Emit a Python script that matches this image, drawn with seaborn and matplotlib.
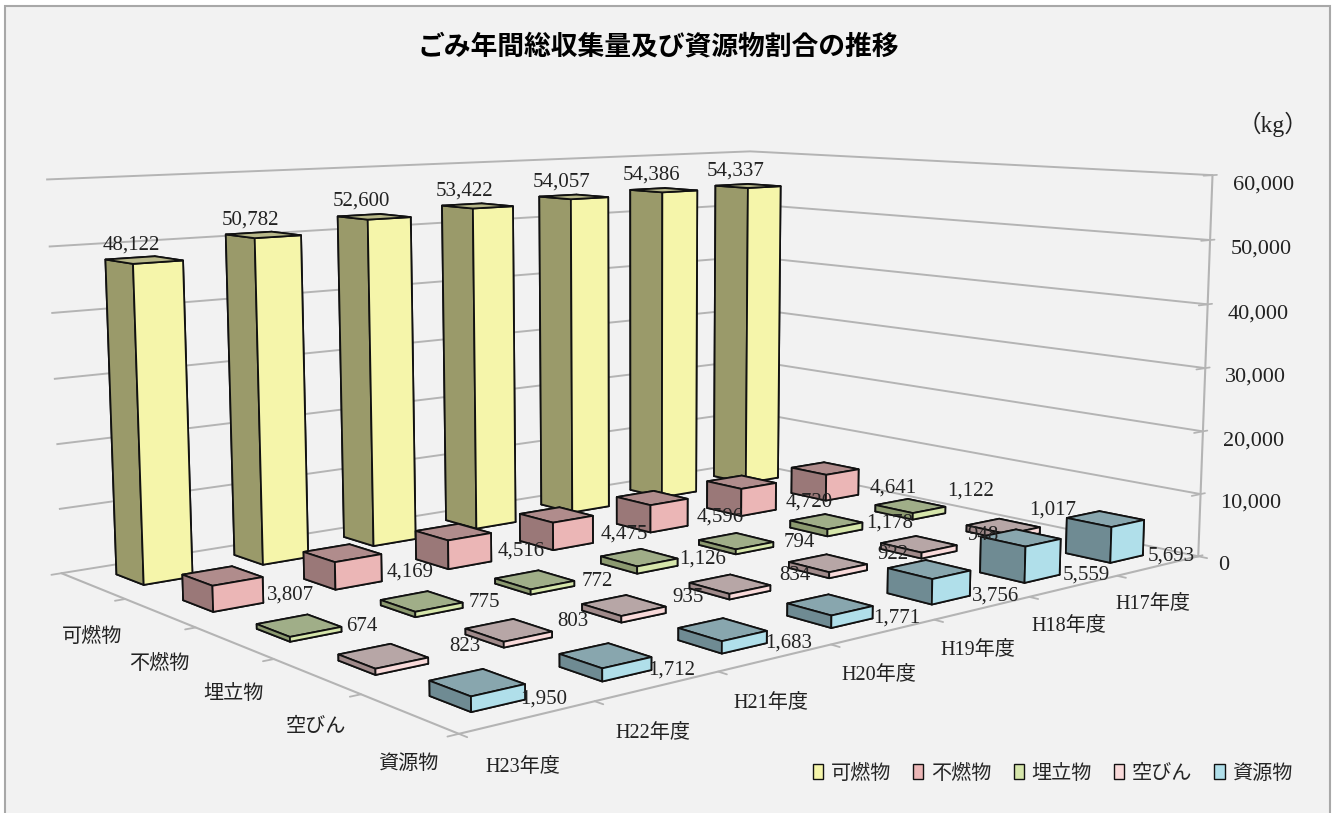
"""
Recreate the 3D bar chart of yearly garbage collection.
"""

import matplotlib
matplotlib.use("Agg")
import matplotlib.pyplot as plt
import seaborn as sns
from matplotlib.patches import Patch, Rectangle
from mpl_toolkits.mplot3d import proj3d

years = ["H23年度", "H22年度", "H21年度", "H20年度", "H19年度", "H18年度", "H17年度"]
categories = ["資源物", "空びん", "埋立物", "不燃物", "可燃物"]

burnable = [48122, 50782, 52600, 53422, 54057, 54386, 54337]
unburnable = [3807, 4169, 4516, 4475, 4596, 4720, 4641]
landfill = [674, 775, 772, 1126, 794, 1178, 1122]
bottles = [823, 803, 935, 834, 922, 948, 1017]
resources = [1950, 1712, 1683, 1771, 3756, 5559, 5693]

series = [resources, bottles, landfill, unburnable, burnable]
z_ticks = [0, 10000, 20000, 30000, 40000, 50000, 60000]
legend_order = [4, 3, 2, 1, 0]

# top, dark side, light side
face_colors = [
    ("#88a6ae", "#6f8b93", "#b0dfea"),
    ("#b7a6a6", "#a08a8a", "#f9dada"),
    ("#a0ae88", "#8c9a70", "#d6e6ab"),
    ("#b08c8c", "#9a7878", "#ebb6b6"),
    ("#b9b98a", "#9a9a6a", "#f5f5aa"),
]
# label offsets from the anchor, in points
label_offsets = [(48, -1), (46.5, 6), (45.5, -1), (49, -14), (-9, 11)]
# a few labels that sit apart from the rest of their series
label_nudges = {(2, 6): (-2, 12), (1, 6): (-11, 6), (1, 0): (12, 1)}
# the 資源物 labels sit next to the bar base, the others follow the bar top
anchor_on_base = [True, False, False, False, False]

sns.set_theme(style="white")
plt.rcParams["font.family"] = ["Liberation Serif", "Noto Sans CJK JP"]

W, H = 1335, 813
BG = "#f2f2f2"
GRID = "#b4b4b4"
TEXT = "#222222"

fig = plt.figure(figsize=(W / 100, H / 100), dpi=100, facecolor="white")
fig.add_artist(
    Rectangle(
        (5 / W, -0.02),
        1325 / W,
        1.02 - 6 / H,
        transform=fig.transFigure,
        facecolor=BG,
        edgecolor="#a8a8a8",
        linewidth=1.5,
        zorder=-5,
    )
)

ax = fig.add_axes([0.0239, -0.20622, 0.88577, 1.45449], projection="3d", computed_zorder=False)
ax.patch.set_alpha(0)
ax.view_init(elev=8.333, azim=-129.955)
ax.set_proj_type("persp", focal_length=0.3464)
ax.set_box_aspect((1.3634, 1.0, 0.5737), zoom=1.0)

ax.set_xlim(0, 7, view_margin=0)
ax.set_ylim(0, 5, view_margin=0)
ax.set_zlim(0, 60000, view_margin=0)

for axis in (ax.xaxis, ax.yaxis, ax.zaxis):
    axis.set_pane_color((0, 0, 0, 0))
    axis.pane.set_edgecolor("none")
    axis.line.set_color(GRID)
    axis.line.set_linewidth(1.5)
    axis._axinfo["grid"].update(color=GRID, linewidth=1.4)
for axis in (ax.xaxis, ax.yaxis):
    axis._axinfo["grid"].update(linewidth=0)
    axis._axinfo["tick"].update(inward_factor=0, outward_factor=0)

# value axis goes on the right hand corner
ax.zaxis._axinfo["juggled"] = (1, 2, 0)

ax.set_xticks([i + 0.5 for i in range(len(years))], years, fontsize=14.5)
ax.set_yticks([j + 0.5 for j in range(len(categories))], [""] * len(categories))
ax.set_zticks(z_ticks, [f"{v:,}" for v in z_ticks], fontsize=16)
ax.tick_params(axis="x", pad=18, labelcolor=TEXT, color=GRID)
ax.tick_params(axis="z", pad=0, labelcolor=TEXT, color=GRID)

for tick in ax.xaxis.get_major_ticks():
    tick.label1.set_ha("right")
for tick in ax.zaxis.get_major_ticks():
    tick.label1.set_ha("left")

# cell boundary ticks on the floor edges
for i in range(len(years) + 1):
    ax.plot([i, i], [0, -0.08], [0, 0], color=GRID, lw=1.3, zorder=1)
for j in range(len(categories) + 1):
    ax.plot([0, -0.08], [j, j], [0, 0], color=GRID, lw=1.3, zorder=1)

# back to front so nearer bars cover farther ones
width, depth = 0.40, 0.42
zo = 2
for j in reversed(range(len(categories))):
    top, dark, light = face_colors[j]
    for i in reversed(range(len(years))):
        ax.bar3d(
            i + (1 - width) / 2,
            j + (1 - depth) / 2,
            0,
            width,
            depth,
            series[j][i],
            color=[top, top, light, light, dark, dark],
            edgecolor="#111111",
            linewidth=1.3,
            shade=False,
            zorder=zo,
        )
        zo += 1

proj = ax.get_proj()
for j in range(len(categories)):
    for i in range(len(years)):
        anchor_z = 0 if anchor_on_base[j] else series[j][i]
        px, py, _ = proj3d.proj_transform(i + 0.5, j + 0.5, anchor_z, proj)
        nudge = label_nudges.get((j, i), (0, 0))
        ax.annotate(
            f"{series[j][i]:,}",
            xy=(px, py),
            xytext=(label_offsets[j][0] + nudge[0], label_offsets[j][1] + nudge[1]),
            textcoords="offset points",
            fontsize=15,
            color=TEXT,
            ha="center",
            va="center",
            zorder=500,
        )

# category names sit lower than the 3D tick labels can reach
for j in range(len(categories)):
    px, py, _ = proj3d.proj_transform(0, j + 0.5, 0, proj)
    ax.annotate(
        categories[j],
        xy=(px, py),
        xytext=(0, -37),
        textcoords="offset points",
        fontsize=14.5,
        color=TEXT,
        ha="center",
        va="center",
        zorder=500,
    )

fig.text(658 / W, 1 - 48 / H, "ごみ年間総収集量及び資源物割合の推移", fontsize=19.3,
         ha="center", va="center", color="black", weight="bold")
fig.text(1273 / W, 1 - 124 / H, "（kg）", fontsize=17, ha="center", va="center", color=TEXT)

handles = [
    Patch(facecolor=face_colors[j][2], edgecolor="#111111", label=categories[j])
    for j in legend_order
]
fig.legend(
    handles=handles,
    ncol=5,
    frameon=False,
    fontsize=14.5,
    loc="center right",
    bbox_to_anchor=(1303 / W, 1 - 774 / H),
    bbox_transform=fig.transFigure,
    handlelength=0.5,
    handleheight=0.7,
    handletextpad=0.4,
    columnspacing=1.09,
    borderpad=0,
)

fig.savefig("out.png", dpi=100, facecolor="white")
plt.close(fig)
